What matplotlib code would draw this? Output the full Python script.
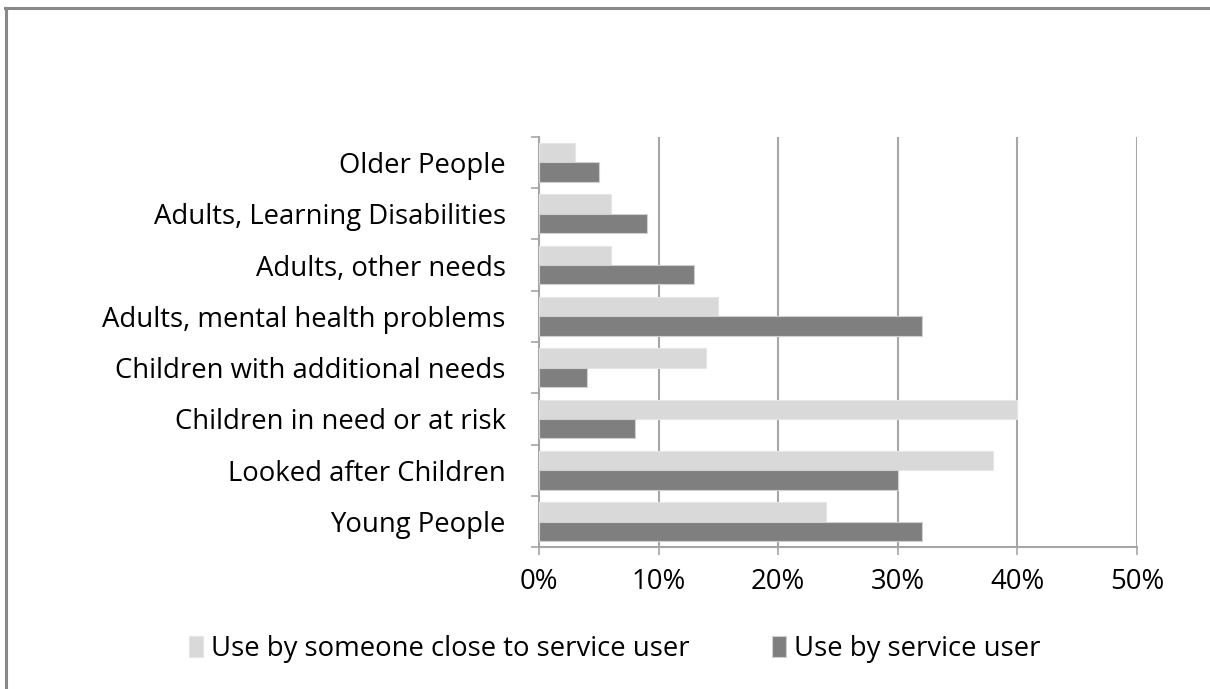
import matplotlib as mpl
import matplotlib.pyplot as plt
import numpy as np
from matplotlib.lines import Line2D

categories = [
    "Older People",
    "Adults, Learning Disabilities",
    "Adults, other needs",
    "Adults, mental health problems",
    "Children with additional needs",
    "Children in need or at risk",
    "Looked after Children",
    "Young People",
]
close_to_user = [3, 6, 6, 15, 14, 40, 38, 24]
service_user = [5, 9, 13, 32, 4, 8, 30, 32]
xticks = [0, 10, 20, 30, 40, 50]
legend_labels = ["Use by someone close to service user", "Use by service user"]

mpl.rcParams["font.family"] = ["Open Sans", "DejaVu Sans"]
mpl.rcParams["font.size"] = 19.8

light = "#d9d9d9"
dark = "#7f7f7f"
grid = "#a6a6a6"

fig = plt.figure(figsize=(12.1, 6.89), dpi=100)
ax = fig.add_axes([539 / 1210, 1 - 547.3 / 689, 598 / 1210, 410.6 / 689])

n = len(categories)
pos = np.arange(n)[::-1]
h = 0.376
ax.barh(pos + h / 2, close_to_user, height=h, color=light, edgecolor="#e6e6e6", linewidth=0.8,
        label=legend_labels[0], zorder=3)
ax.barh(pos - h / 2, service_user, height=h, color=dark, edgecolor="#d0d0d0", linewidth=0.8,
        label=legend_labels[1], zorder=3)

ax.set_xlim(0, 50)
ax.set_ylim(-0.5, n - 0.5)
ax.set_xticks(xticks)
ax.set_xticklabels([f"{x}%" for x in xticks])
ax.set_yticks(pos)
ax.set_yticklabels(categories)
ax.set_yticks(np.arange(-0.5, n, 1), minor=True)

ax.tick_params(axis="y", which="major", length=0, pad=24)
ax.tick_params(axis="y", which="minor", length=6, width=1.2, color=grid, direction="out")
ax.tick_params(axis="x", length=6, width=1.2, color=grid, direction="out", pad=9)

for x in xticks[1:]:
    ax.axvline(x, color=grid, linewidth=1.5, zorder=1)

for s in ["top", "right"]:
    ax.spines[s].set_visible(False)
for s in ["left", "bottom"]:
    ax.spines[s].set_color(grid)
    ax.spines[s].set_linewidth(1.5)

handles, labels = ax.get_legend_handles_labels()
fig.legend(handles, labels, loc="center", bbox_to_anchor=(0.508, 1 - 649 / 689), ncol=2,
           frameon=False, handlelength=0.5, handleheight=0.85, handletextpad=0.3,
           columnspacing=3.0, fontsize=19.8)

# outer chart border (only top and left visible in the crop)
fig.add_artist(Line2D([5 / 1210, 1.02], [1 - 8 / 689, 1 - 8 / 689], color="#888888", linewidth=2.2,
                      transform=fig.transFigure))
fig.add_artist(Line2D([6 / 1210, 6 / 1210], [-0.02, 1 - 8 / 689], color="#888888", linewidth=2.2,
                      transform=fig.transFigure))

plt.savefig("out.png", dpi=100)
